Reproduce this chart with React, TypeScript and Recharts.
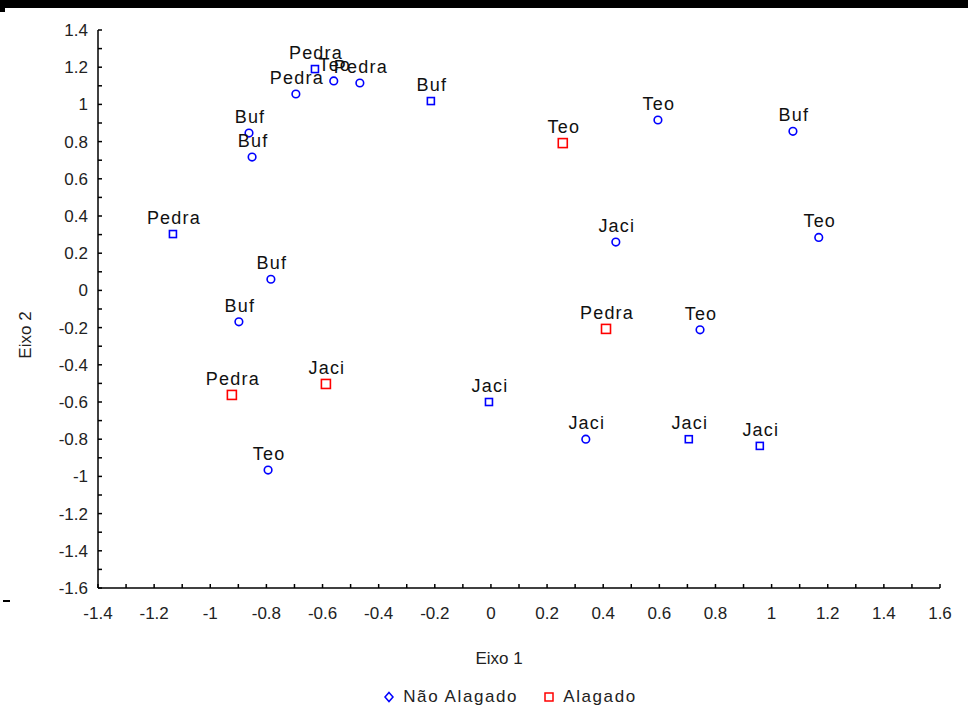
import React from 'react';
import { ScatterChart, Scatter, XAxis, YAxis, Legend, Label } from 'recharts';

// Não Alagado - pontos marcados com círculo
const naoAlagadoCirculoNomes = ['Teo', 'Pedra', 'Pedra', 'Buf', 'Buf', 'Teo', 'Buf', 'Jaci', 'Teo', 'Buf', 'Buf', 'Teo', 'Jaci', 'Teo'];
const naoAlagadoCirculoEixo1 = [-0.56, -0.467, -0.695, -0.862, -0.851, 0.595, 1.076, 0.445, 1.168, -0.784, -0.898, 0.745, 0.338, -0.794];
const naoAlagadoCirculoEixo2 = [1.126, 1.115, 1.056, 0.846, 0.717, 0.916, 0.855, 0.26, 0.285, 0.06, -0.169, -0.212, -0.8, -0.966];

// Não Alagado - pontos marcados com quadrado
const naoAlagadoQuadradoNomes = ['Pedra', 'Buf', 'Pedra', 'Jaci', 'Jaci', 'Jaci'];
const naoAlagadoQuadradoEixo1 = [-0.627, -0.214, -1.133, -0.007, 0.705, 0.958];
const naoAlagadoQuadradoEixo2 = [1.19, 1.018, 0.303, -0.6, -0.8, -0.836];

// Alagado
const alagadoNomes = ['Teo', 'Pedra', 'Pedra', 'Jaci'];
const alagadoEixo1 = [0.256, 0.41, -0.923, -0.588];
const alagadoEixo2 = [0.792, -0.207, -0.562, -0.503];

const xTicks = [-1.4, -1.2, -1, -0.8, -0.6, -0.4, -0.2, 0, 0.2, 0.4, 0.6, 0.8, 1, 1.2, 1.4, 1.6];
const yTicks = [-1.6, -1.4, -1.2, -1, -0.8, -0.6, -0.4, -0.2, 0, 0.2, 0.4, 0.6, 0.8, 1, 1.2, 1.4];

const comMenores = (ticks: number[]) => {
  const out: number[] = [];
  ticks.forEach((t, i) => {
    out.push(t);
    if (i < ticks.length - 1) out.push(Math.round(((t + ticks[i + 1]) / 2) * 100) / 100);
  });
  return out;
};

const monta = (nomes: string[], xs: number[], ys: number[]) =>
  nomes.map((nome, i) => ({ nome, x: xs[i], y: ys[i] }));

const dadosCirculo = monta(naoAlagadoCirculoNomes, naoAlagadoCirculoEixo1, naoAlagadoCirculoEixo2);
const dadosQuadrado = monta(naoAlagadoQuadradoNomes, naoAlagadoQuadradoEixo1, naoAlagadoQuadradoEixo2);
const dadosAlagado = monta(alagadoNomes, alagadoEixo1, alagadoEixo2);

const AZUL = '#0000ff';
const VERMELHO = '#ff0000';
const FONTE = '"Liberation Sans", Arial, sans-serif';

const isMajor = (v: number) => Math.abs(Math.round(v * 10)) % 2 === 0;
const fmt = (v: number) => String(Math.round(v * 10) / 10);

const XTick = (props: any) => {
  const { x, y, payload } = props;
  const v = payload.value;
  return (
    <g>
      <line x1={x} y1={y} x2={x} y2={y - 4} stroke="#000" strokeWidth={1.5} />
      {isMajor(v) && (
        <text x={x} y={y + 31} textAnchor="middle" fontSize={17} fontFamily={FONTE} fill="#222">
          {fmt(v)}
        </text>
      )}
    </g>
  );
};

const YTick = (props: any) => {
  const { x, y, payload } = props;
  const v = payload.value;
  return (
    <g>
      <line x1={x} y1={y} x2={x + 4} y2={y} stroke="#000" strokeWidth={1.5} />
      {isMajor(v) && (
        <text x={x - 10} y={y + 6} textAnchor="end" fontSize={17} fontFamily={FONTE} fill="#222">
          {fmt(v)}
        </text>
      )}
    </g>
  );
};

const rotulo = (cx: number, cy: number, nome: string) => (
  <text x={cx + 1} y={cy - 10} textAnchor="middle" fontSize={18} letterSpacing={1.2} fontFamily={FONTE} fill="#111">
    {nome}
  </text>
);

const Circulo = (props: any) => {
  const { cx, cy, payload } = props;
  return (
    <g>
      <circle cx={cx} cy={cy} r={3.8} fill="none" stroke={AZUL} strokeWidth={1.6} />
      {rotulo(cx, cy, payload.nome)}
    </g>
  );
};

const Quadrado = (props: any) => {
  const { cx, cy, payload } = props;
  return (
    <g>
      <rect x={cx - 3.5} y={cy - 3.5} width={7} height={7} fill="none" stroke={AZUL} strokeWidth={1.6} />
      {rotulo(cx, cy, payload.nome)}
    </g>
  );
};

const QuadradoVermelho = (props: any) => {
  const { cx, cy, payload } = props;
  return (
    <g>
      <rect x={cx - 4.5} y={cy - 4.5} width={9} height={9} fill="none" stroke={VERMELHO} strokeWidth={1.6} />
      {rotulo(cx, cy, payload.nome)}
    </g>
  );
};

const Legenda = () => (
  <div style={{ display: 'flex', justifyContent: 'center', fontFamily: FONTE, fontSize: 17, color: '#222', letterSpacing: 1.6 }}>
    <span style={{ display: 'flex', alignItems: 'center', marginLeft: 52 }}>
      <svg width={12} height={12} style={{ marginRight: 8 }}>
        <path d="M6 1.5 L10 6 L6 10.5 L2 6 Z" fill="none" stroke={AZUL} strokeWidth={1.5} />
      </svg>
      Não Alagado
    </span>
    <span style={{ display: 'flex', alignItems: 'center', marginLeft: 25 }}>
      <svg width={12} height={12} style={{ marginRight: 8 }}>
        <rect x={2} y={2} width={8} height={8} fill="none" stroke={VERMELHO} strokeWidth={1.5} />
      </svg>
      Alagado
    </span>
  </div>
);

export default function App() {
  return (
    <div style={{ position: 'absolute', left: 0, top: 0, width: 968, height: 711, background: '#fff' }}>
      <div style={{ position: 'absolute', left: 0, top: 0, width: 968, height: 8, background: '#000' }} />
      <div style={{ position: 'absolute', left: 0, top: 8, width: 5, height: 4, background: '#000' }} />
      <div style={{ position: 'absolute', left: 3, top: 600, width: 7, height: 2, background: '#000' }} />
      <ScatterChart width={968} height={711} margin={{ top: 30, right: 28, bottom: 0, left: 0 }}>
        <XAxis
          type="number"
          dataKey="x"
          domain={[-1.4, 1.6]}
          ticks={comMenores(xTicks)}
          interval={0}
          height={123}
          tickSize={0}
          tickMargin={0}
          tickLine={false}
          axisLine={{ stroke: '#000', strokeWidth: 1.5 }}
          tick={<XTick />}
          allowDataOverflow
        >
          <Label
            content={() => (
              <text x={499} y={664} textAnchor="middle" fontSize={17} fontFamily={FONTE} fill="#222">
                Eixo 1
              </text>
            )}
          />
        </XAxis>
        <YAxis
          type="number"
          dataKey="y"
          domain={[-1.6, 1.4]}
          ticks={comMenores(yTicks)}
          interval={0}
          width={98}
          tickSize={0}
          tickMargin={0}
          tickLine={false}
          axisLine={{ stroke: '#000', strokeWidth: 1.5 }}
          tick={<YTick />}
          allowDataOverflow
        >
          <Label
            content={() => (
              <text
                x={31}
                y={335}
                transform="rotate(-90 31 335)"
                textAnchor="middle"
                fontSize={17}
                fontFamily={FONTE}
                fill="#222"
              >
                Eixo 2
              </text>
            )}
          />
        </YAxis>
        <Legend
          layout="horizontal"
          verticalAlign="middle"
          align="center"
          wrapperStyle={{ top: 687, left: 0, width: 968 }}
          content={<Legenda />}
        />
        <Scatter name="Não Alagado" data={dadosCirculo} shape={<Circulo />} isAnimationActive={false} />
        <Scatter name="Não Alagado " data={dadosQuadrado} shape={<Quadrado />} isAnimationActive={false} legendType="none" />
        <Scatter name="Alagado" data={dadosAlagado} shape={<QuadradoVermelho />} isAnimationActive={false} />
      </ScatterChart>
    </div>
  );
}
